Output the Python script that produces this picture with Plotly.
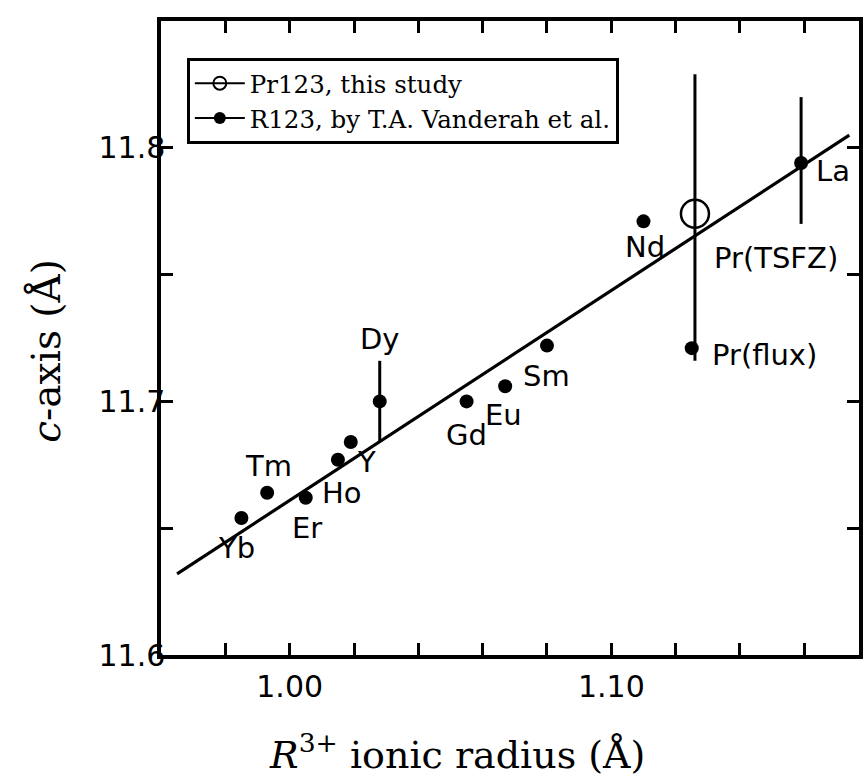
import plotly.graph_objects as go

# R123 lattice data (T.A. Vanderah et al.)
r_labels = ["Yb", "Tm", "Er", "Ho", "Y", "Dy", "Gd", "Eu", "Sm", "Nd", "Pr(flux)", "La"]
r_radius = [0.985, 0.993, 1.005, 1.015, 1.019, 1.028, 1.055, 1.067, 1.080, 1.110, 1.125, 1.159]
r_caxis = [11.654, 11.664, 11.662, 11.677, 11.684, 11.700, 11.700, 11.706, 11.722, 11.771, 11.721, 11.794]
r_err_up = [None, None, None, None, None, 0.016, None, None, None, None, None, 0.026]
r_err_down = [None, None, None, None, None, 0.016, None, None, None, None, None, 0.024]

# Pr123 grown by TSFZ (this study)
pr_labels = ["Pr(TSFZ)"]
pr_radius = [1.126]
pr_caxis = [11.774]
pr_err_up = [0.055]
pr_err_down = [0.058]

# linear fit
fit_radius = [0.965, 1.174]
fit_caxis = [11.632, 11.805]

# labelled axis ticks (unlabelled ones are drawn as minor ticks)
x_tickvals = [1.00, 1.10]
x_ticktext = ["1.00", "1.10"]
y_tickvals = [11.6, 11.7, 11.8]
y_ticktext = ["11.6", "11.7", "11.8"]

# label placement (pixel offsets from each point, anchor)
label_style = {
    "Yb": (-5, -30, "center"),
    "Tm": (1, 27, "center"),
    "Er": (1, -30, "center"),
    "Ho": (4, -33, "center"),
    "Y": (16, -20, "center"),
    "Dy": (0, 62, "center"),
    "Gd": (0, -34, "center"),
    "Eu": (-2, -29, "center"),
    "Sm": (0, -30, "center"),
    "Nd": (2, -26, "center"),
    "Pr(flux)": (18, -7, "left"),
    "La": (13, -8, "left"),
    "Pr(TSFZ)": (17, -44, "left"),
}

BLACK = "black"
fig = go.Figure()

fig.add_trace(go.Scatter(
    x=fit_radius, y=fit_caxis, mode="lines",
    line=dict(color=BLACK, width=3.2), showlegend=False, hoverinfo="skip"))

fig.add_trace(go.Scatter(
    x=r_radius, y=r_caxis, mode="markers",
    marker=dict(color=BLACK, size=14, symbol="circle"),
    error_y=dict(type="data", symmetric=False, array=r_err_up, arrayminus=r_err_down,
                 color=BLACK, thickness=3, width=0),
    showlegend=False))

fig.add_trace(go.Scatter(
    x=pr_radius, y=pr_caxis, mode="markers",
    marker=dict(color=BLACK, size=28, symbol="circle-open",
                line=dict(color=BLACK, width=2.5)),
    error_y=dict(type="data", symmetric=False, array=pr_err_up, arrayminus=pr_err_down,
                 color=BLACK, thickness=3, width=0),
    showlegend=False))

# legend entries
fig.add_trace(go.Scatter(
    x=[None], y=[None], mode="lines+markers", name="Pr123, this study",
    line=dict(color=BLACK, width=2),
    marker=dict(symbol="circle-open", size=13, color=BLACK, line=dict(color=BLACK, width=2))))
fig.add_trace(go.Scatter(
    x=[None], y=[None], mode="lines+markers", name="R123, by T.A. Vanderah et al.",
    line=dict(color=BLACK, width=2),
    marker=dict(symbol="circle", size=12, color=BLACK)))

annotations = []
for names, xs, ys in ((r_labels, r_radius, r_caxis), (pr_labels, pr_radius, pr_caxis)):
    for name, x, y in zip(names, xs, ys):
        dx, dy, anchor = label_style[name]
        annotations.append(dict(
            x=x, y=y, xref="x", yref="y", text=name, showarrow=False,
            xanchor=anchor, yanchor="middle", xshift=dx, yshift=dy,
            font=dict(family="DejaVu Sans", size=29, color=BLACK)))

annotations.append(dict(
    x=0.424, y=-0.153, xref="paper", yref="paper", showarrow=False,
    text="<i>R</i><sup>3+</sup> ionic radius (Å)",
    xanchor="center", yanchor="middle",
    font=dict(family="DejaVu Serif", size=38, color=BLACK)))
annotations.append(dict(
    x=-0.164, y=0.479, xref="paper", yref="paper", showarrow=False,
    text="<i>c</i>-axis (Å)", textangle=-90,
    xanchor="center", yanchor="middle",
    font=dict(family="DejaVu Serif", size=39, color=BLACK)))

axis_common = dict(
    showgrid=False, zeroline=False, showline=True, linecolor=BLACK, linewidth=3.5,
    mirror="ticks", ticks="inside", ticklen=12, tickwidth=2.5, tickcolor=BLACK,
    tickfont=dict(family="DejaVu Sans", size=30, color=BLACK))
minor_common = dict(ticks="inside", ticklen=12, tickwidth=2.5, tickcolor=BLACK, showgrid=False)

fig.update_layout(
    width=865, height=778,
    margin=dict(l=161, r=2, t=21, b=123),
    paper_bgcolor="white", plot_bgcolor="white",
    xaxis=dict(range=[0.960, 1.177], tickmode="array", tickvals=x_tickvals,
               ticktext=x_ticktext, ticklabelstandoff=2,
               minor=dict(tick0=0.96, dtick=0.02, **minor_common), **axis_common),
    yaxis=dict(range=[11.6, 11.85], tickmode="array", tickvals=y_tickvals,
               ticktext=y_ticktext, ticklabelstandoff=-14,
               minor=dict(tick0=11.6, dtick=0.05, **minor_common), **axis_common),
    legend=dict(x=0.037, y=0.942, xanchor="left", yanchor="top",
                bgcolor="white", bordercolor=BLACK, borderwidth=3,
                itemwidth=50, tracegroupgap=0,
                font=dict(family="DejaVu Serif", size=24.5, color=BLACK)),
    annotations=annotations,
    showlegend=True,
)

fig.write_html("out.html")
